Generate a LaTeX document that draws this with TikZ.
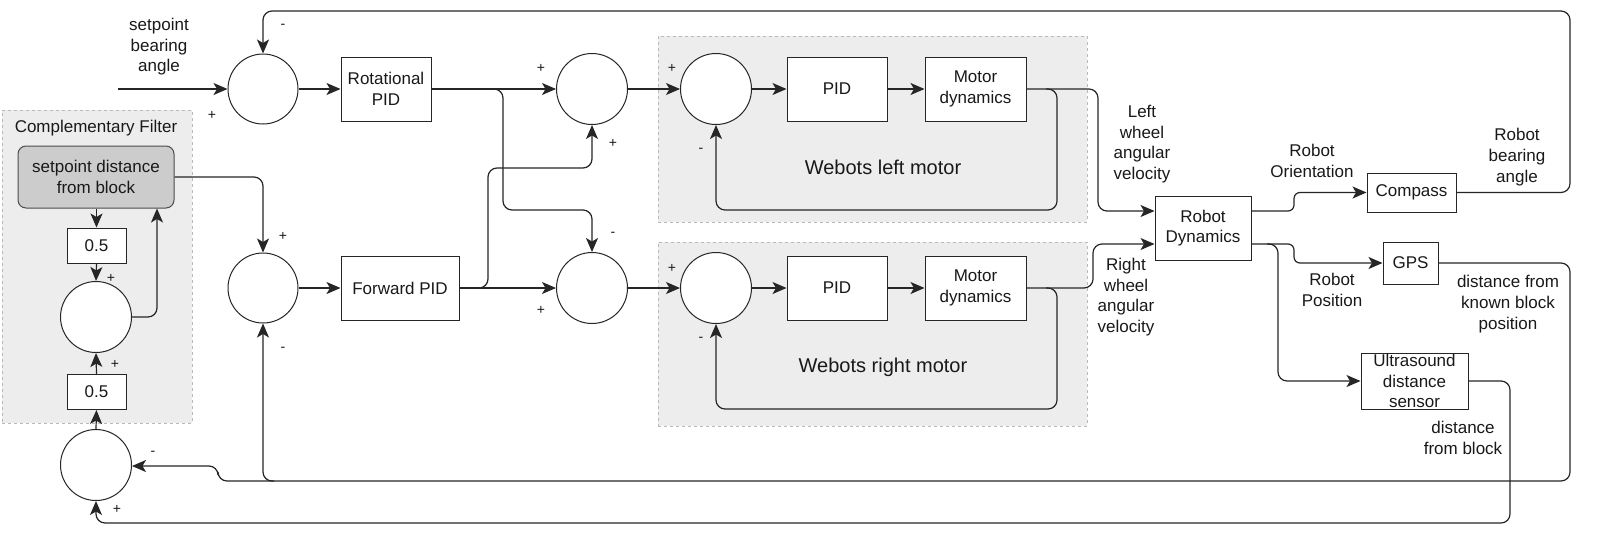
\documentclass[tikz,border=0pt]{standalone}
\usepackage{fontspec}
\setmainfont{Liberation Sans}
\usetikzlibrary{arrows.meta}
\begin{document}
\begin{tikzpicture}[x=1pt,y=-1pt,
  every node/.style={font=\fontsize{17}{20.6}\selectfont, inner sep=0pt, text=black!90},
  blk/.style={draw=black!85, line width=1pt, fill=white, align=center},
  sumc/.style={draw=black!85, line width=1pt, circle, minimum size=71pt, fill=white},
  grp/.style={draw=gray!55, dashed, fill=black!7, line width=0.8pt},
  wire/.style={line width=1.2pt, draw=black!85, rounded corners=9pt},
  arr/.style={wire, -{Stealth[length=14pt,width=12pt,inset=3.5pt]}},
  sgn/.style={font=\fontsize{14}{16}\selectfont},
  lbl/.style={align=center},
  big/.style={font=\fontsize{20}{24}\selectfont},
]
\useasboundingbox (0,0) rectangle (1600,536);
\fill[white] (0,0) rectangle (1600,536);

% groups
\node[grp, minimum width=190pt, minimum height=313pt] (gcf) at (97,266.5) {};
\node[grp, minimum width=429pt, minimum height=186pt] (gl) at (872.5,129) {};
\node[grp, minimum width=429pt, minimum height=184pt] (gr) at (872.5,334) {};
\node[lbl] (tcf) at (96,128) {Complementary Filter};
\node[lbl, big] (tl) at (883,167) {Webots left motor};
\node[lbl, big] (tr) at (883,367) {Webots right motor};

% filter
\node[blk, fill=black!20, draw=black!70, rounded corners=8pt, minimum width=156pt, minimum height=62pt] (sp) at (96,177) {setpoint distance\\from block};
\node[blk, minimum width=59pt, minimum height=35pt] (h1) at (96.5,245.5) {0.5};
\node[sumc] (cfs) at (96,317) {};
\node[blk, minimum width=59pt, minimum height=35pt] (h2) at (96.5,392) {0.5};
\node[sumc] (cfb) at (96,465) {};

% sums and blocks
\coordinate (in) at (118,89);
\node[sumc, minimum size=70pt] (s1) at (263,89) {};
\node[sumc, minimum size=70pt] (s2) at (263,288) {};
\node[blk, minimum width=90pt, minimum height=64pt] (rot) at (386,89) {Rotational\\PID};
\node[blk, minimum width=118pt, minimum height=64pt] (fwd) at (400,288) {Forward PID};
\node[sumc] (s3) at (592,89) {};
\node[sumc] (s4) at (592,288) {};
\node[sumc] (s5) at (716,89) {};
\node[sumc] (s6) at (716,288) {};
\node[blk, minimum width=100pt, minimum height=64pt] (pid1) at (837,89) {PID};
\node[blk, minimum width=100pt, minimum height=64pt] (pid2) at (837,288) {PID};
\node[blk, minimum width=101pt, minimum height=64pt] (md1) at (975.5,89) {Motor\\dynamics};
\node[blk, minimum width=101pt, minimum height=64pt] (md2) at (975.5,288) {Motor\\dynamics};
\node[blk, minimum width=96pt, minimum height=64pt] (rd) at (1203,228) {Robot\\Dynamics};
\node[blk, minimum width=89pt, minimum height=39pt] (cmp) at (1411.5,192.5) {Compass};
\node[blk, minimum width=55pt, minimum height=42pt] (gps) at (1410.5,263) {GPS};
\node[blk, minimum width=107pt, minimum height=56pt] (us) at (1414.5,381) {};
\node[lbl] (tus) at (us) {Ultrasound\\distance\\sensor};

% labels
\node[lbl] (l1) at (159,47) {setpoint\\bearing\\angle};
\node[lbl] (l2) at (1142,144) {Left\\wheel\\angular\\velocity};
\node[lbl] (l3) at (1126,297) {Right\\wheel\\angular\\velocity};
\node[lbl] (l4) at (1312,161) {Robot\\Orientation};
\node[lbl] (l5) at (1517,157) {Robot\\bearing\\angle};
\node[lbl] (l6) at (1332,290) {Robot\\Position};
\node[lbl] (l7) at (1508,304) {distance from\\known block\\position};
\node[lbl] (l8) at (1463,438) {distance\\from block};

% signs
\node[sgn] (p1) at (283,26) {-};
\node[sgn] (p2) at (212,115) {+};
\node[sgn] (p3) at (283,236) {+};
\node[sgn] (p4) at (283,349) {-};
\node[sgn] (p5) at (541,68) {+};
\node[sgn] (p6) at (613,143) {+};
\node[sgn] (p7) at (613,234) {-};
\node[sgn] (p8) at (541,310) {+};
\node[sgn] (p9) at (672,68) {+};
\node[sgn] (p10) at (701,150) {-};
\node[sgn] (p11) at (672,268) {+};
\node[sgn] (p12) at (701,339) {-};
\node[sgn] (p13) at (111,278) {+};
\node[sgn] (p14) at (115,364) {+};
\node[sgn] (p15) at (153,453) {-};
\node[sgn] (p16) at (117,509) {+};

% junctions
\coordinate (jr) at (492,89);
\coordinate (jf) at (477,288);
\coordinate (jl) at (1046,89);
\coordinate (jrr) at (1046,288);
\coordinate (jd) at (1267,244);
\coordinate (jg) at (274,481);

% filter wires
\draw[arr] (sp.south -| h1.north) -- (h1.north);
\draw[arr] (h1.south) -- (cfs.north);
\draw[arr] (h2.north) -- (cfs.south);
\draw[arr] (cfb.north) -- (h2.south);
\draw[arr] (cfs.east) -- (157,317) -- (157,0 |- sp.south);
\draw[arr] (sp.east |- 0,177) -- (263,177) -- (s2.north);

% main wires
\draw[arr] (in) -- (s1.west);
\draw[arr] (s1.east) -- (rot.west);
\draw[arr] (s2.east) -- (fwd.west);
\draw[arr] (rot.east) -- (s3.west);
\draw[arr] (jr) -- (503,89) -- (503,210) -- (592,210) -- (s4.north);
\draw[arr] (fwd.east) -- (s4.west);
\draw[arr] (jf) -- (488,288) -- (488,168) -- (592,168) -- (s3.south);
\draw[arr] (s3.east) -- (s5.west);
\draw[arr] (s4.east) -- (s6.west);
\draw[arr] (s5.east) -- (pid1.west);
\draw[arr] (s6.east) -- (pid2.west);
\draw[arr] (pid1.east) -- (md1.west);
\draw[arr] (pid2.east) -- (md2.west);
\draw[arr] (md1.east) -- (1057,89) -- (1057,210) -- (716,210) -- (s5.south);
\draw[arr] (md2.east) -- (1057,288) -- (1057,409) -- (716,409) -- (s6.south);
\draw[arr] (jl) -- (1098,89) -- (1098,211) -- ([yshift=17pt]rd.west);
\draw[arr] (jrr) -- (1093,288) -- (1093,244) -- ([yshift=-16pt]rd.west);

% robot outputs
\draw[arr, rounded corners=6pt] ([yshift=17pt]rd.east) -- (1294,211) -- (1294,192.5) -- (cmp.west);
\draw[arr, rounded corners=6pt] ([yshift=-16pt]rd.east) -- (1294,244) -- (1294,263) -- (gps.west);
\draw[arr] (jd) -- (1278,244) -- (1278,381) -- (us.west);

% feedbacks
\draw[arr] (cmp.east) -- (1570,192.5) -- (1570,11) -- (263,11) -- (s1.north);
\draw[arr] (gps.east) -- (1570,263) -- (1570,481) -- (263,481) -- (s2.south);
\draw[arr] (jg) -- (218,481) -- (218,466) -- (cfb.east |- 0,466);
\draw[arr] (us.east) -- (1510,381) -- (1510,523) -- (96,523) -- (cfb.south);
\end{tikzpicture}
\end{document}
